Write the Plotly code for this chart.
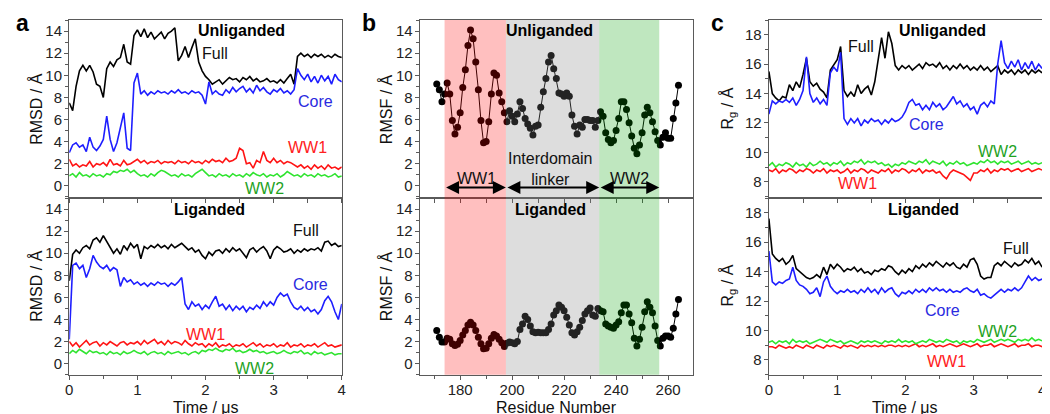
import plotly.graph_objects as go

# ---------------- data ----------------
TIME_US = [i / 20 for i in range(81)]          # 0 .. 4 us, 0.05 us sampling
RESIDUES = list(range(171, 265))

# Panel a: RMSD (Angstrom), unliganded
RMSD_UNL_FULL = [7.5, 6.8, 9.0, 10.4, 10.9, 10.4, 10.9, 10.3, 9.2, 9.0,
                 8.0, 10.6, 11.2, 10.8, 11.4, 11.6, 12.8, 11.2, 11.0, 13.6,
                 14.1, 13.5, 14.2, 13.4, 13.9, 13.3, 13.6, 13.9, 13.3, 13.8,
                 14.0, 14.3, 11.3, 11.8, 12.6, 11.6, 12.5, 13.3, 11.2, 10.4,
                 9.9, 9.6, 9.2, 9.4, 9.6, 9.2, 9.5, 9.8, 9.6, 9.7,
                 9.4, 9.8, 9.6, 9.9, 9.5, 9.7, 9.4, 9.5, 9.7, 9.4,
                 9.5, 9.3, 9.6, 9.3, 9.7, 10.1, 9.2, 11.7, 12.0, 11.7,
                 11.9, 11.6, 11.9, 11.7, 11.9, 11.6, 11.8, 11.6, 11.9, 11.7,
                 11.6]
RMSD_UNL_CORE = [3.0, 3.7, 3.9, 3.5, 3.7, 3.1, 4.4, 3.5, 3.2, 3.6,
                 4.2, 6.3, 4.2, 3.1, 3.9, 5.2, 6.6, 3.4, 3.2, 9.3,
                 10.2, 8.3, 8.6, 8.2, 8.5, 8.3, 8.6, 8.4, 8.5, 8.3,
                 8.6, 8.4, 8.7, 8.4, 8.5, 8.3, 8.6, 8.4, 8.5, 8.2,
                 7.4, 9.4, 8.3, 8.6, 8.3, 8.2, 8.7, 8.4, 8.9, 8.5,
                 8.8, 9.0, 8.5, 8.8, 8.4, 9.1, 8.6, 8.9, 8.5, 8.3,
                 8.7, 8.5, 8.8, 8.4, 8.6, 8.3, 8.7, 10.6, 10.0, 9.6,
                 10.1, 9.4, 9.9, 9.3, 10.0, 9.5, 9.9, 9.2, 10.1, 9.6,
                 9.4]
RMSD_UNL_WW1 = [2.4, 1.8, 2.0, 1.7, 1.9, 1.8, 2.2, 1.7, 2.0, 1.9,
                2.1, 1.8, 2.4, 1.9, 2.0, 1.8, 2.3, 1.9, 2.0, 2.2,
                2.4, 2.1, 2.3, 2.0, 2.2, 2.1, 2.3, 2.0, 2.2, 2.1,
                2.2, 2.0, 2.3, 2.1, 2.2, 2.0, 2.3, 2.1, 2.2, 2.0,
                2.3, 2.1, 2.4, 2.2, 2.3, 2.1, 2.5, 2.2, 2.3, 2.5,
                3.4, 3.2, 2.0, 2.1, 1.6, 2.3, 2.1, 3.1, 2.3, 2.1,
                2.5, 2.1, 2.3, 2.0, 2.2, 2.1, 1.9, 1.7, 1.9, 1.6,
                1.8, 1.5, 1.9, 1.6, 1.8, 1.5, 1.9, 1.6, 1.7, 1.5,
                1.7]
RMSD_UNL_WW2 = [0.9, 1.1, 0.8, 1.2, 0.9, 1.0, 0.8, 1.1, 0.9, 1.0,
                0.8, 1.1, 1.0, 1.3, 1.2, 1.4, 1.3, 1.5, 1.2, 1.4,
                1.1, 0.9, 1.0, 0.8, 1.1, 0.9, 1.2, 1.4, 1.3, 1.1,
                0.9, 1.0, 0.8, 1.1, 0.9, 1.0, 0.8, 1.1, 1.3, 1.5,
                1.2, 0.9, 1.0, 0.8, 1.1, 0.9, 1.0, 0.8, 1.1, 0.9,
                1.0, 0.8, 1.1, 0.9, 1.2, 1.0, 0.9, 1.1, 0.8, 1.0,
                0.9, 1.1, 0.8, 1.0, 1.3, 1.1, 0.9, 1.0, 0.8, 1.1,
                0.9, 1.0, 0.8, 1.1, 0.9, 1.0, 0.8, 0.9, 1.1, 0.8,
                0.9]

# Panel a: RMSD (Angstrom), liganded
RMSD_LIG_FULL = [7.5, 9.9, 10.3, 10.0, 10.5, 10.7, 10.4, 11.2, 11.4, 11.0,
                 11.6, 11.1, 10.5, 10.0, 10.4, 9.9, 10.7, 10.3, 10.9, 10.5,
                 10.8, 9.5, 10.6, 10.4, 10.7, 10.5, 10.8, 10.5, 10.7, 10.4,
                 10.8, 10.5, 10.7, 10.9, 10.6, 10.3, 10.5, 10.1, 10.3, 9.8,
                 9.5, 10.1, 9.8, 10.2, 10.3, 10.0, 10.4, 10.1, 10.5, 10.2,
                 10.4, 10.0, 9.6, 10.3, 10.5, 10.1, 10.4, 10.6, 10.2, 9.5,
                 10.3, 10.6, 10.4, 10.1, 10.2, 10.4, 10.0, 10.3, 10.1, 10.4,
                 10.2, 10.4, 10.3, 10.5, 10.2, 11.0, 11.1, 10.7, 10.9, 10.6,
                 10.7]
RMSD_LIG_CORE = [2.2, 8.9, 9.1, 8.6, 8.9, 7.8, 8.6, 9.8, 9.2, 8.8,
                 8.6, 8.9, 8.4, 8.7, 8.5, 7.0, 7.8, 7.4, 7.6, 7.2,
                 7.4, 7.1, 7.3, 7.0, 7.3, 7.1, 7.4, 7.2, 7.3, 7.0,
                 7.3, 7.1, 7.4, 7.8, 5.4, 4.9, 5.6, 5.2, 5.4, 4.9,
                 5.3, 5.0, 5.6, 6.1, 5.2, 5.4, 4.9, 5.3, 4.8, 5.2,
                 4.9, 5.2, 4.7, 5.1, 4.9, 5.3, 5.0, 5.6, 5.2, 5.6,
                 5.3, 6.0, 6.4, 6.1, 6.3, 5.6, 5.1, 4.9, 5.2, 4.8,
                 5.1, 4.7, 4.9, 4.5, 4.9, 5.7, 6.1, 5.6, 4.7, 4.0,
                 5.4]
RMSD_LIG_WW1 = [2.0, 1.6, 1.9, 1.5, 1.8, 2.1, 1.7, 1.9, 2.0, 1.6,
                1.9, 1.7, 2.0, 1.8, 1.6, 1.9, 2.0, 1.7, 1.9, 1.8,
                2.0, 1.7, 2.1, 1.8, 2.0, 2.2, 1.8, 2.0, 1.7, 2.1,
                1.8, 2.0, 1.9, 1.7, 2.1, 1.8, 1.6, 1.9, 1.7, 1.8,
                1.5, 1.8, 1.6, 1.9, 1.5, 1.7, 1.6, 1.8, 1.5, 1.7,
                1.6, 1.8, 1.5, 1.7, 1.9, 1.6, 1.8, 1.5, 1.7, 1.6,
                1.8, 1.5, 1.7, 1.6, 1.9, 1.5, 1.7, 1.6, 1.8, 1.5,
                1.7, 1.6, 1.8, 1.5, 1.7, 1.9, 1.6, 1.7, 1.5, 1.6,
                1.7]
RMSD_LIG_WW2 = [0.9, 1.2, 1.0, 1.3, 1.1, 0.9, 1.2, 1.0, 1.1, 0.9,
                1.0, 0.8, 1.1, 0.9, 1.0, 0.8, 1.1, 0.9, 1.0, 1.2,
                1.0, 0.9, 1.1, 0.8, 1.0, 1.1, 0.9, 1.0, 0.8, 1.1,
                0.9, 1.0, 1.1, 0.9, 1.0, 0.8, 1.0, 1.1, 0.9, 1.2,
                1.1, 1.3, 1.2, 1.4, 1.2, 1.1, 1.3, 1.2, 1.4, 1.1,
                1.2, 1.0, 1.1, 1.3, 1.1, 1.2, 1.0, 1.1, 0.9, 1.0,
                1.1, 0.9, 1.0, 1.2, 1.0, 0.9, 1.1, 1.0, 1.2, 0.9,
                1.0, 0.8, 1.1, 0.9, 1.0, 0.8, 0.9, 1.0, 0.8, 0.9,
                0.9]

# Panel b: RMSF (Angstrom) per residue 171..264
RMSF_UNL = [9.2, 8.7, 7.6, 8.3, 9.3, 8.3, 5.9, 4.7, 5.3, 6.6,
            8.9, 10.5, 12.7, 14.1, 13.3, 11.2, 8.7, 5.9, 3.9, 4.0,
            5.8, 8.3, 10.2, 10.0, 8.4, 7.6, 6.6, 5.8, 6.8, 6.3,
            5.8, 6.5, 7.6, 7.0, 6.1, 5.6, 5.2, 4.6, 5.4, 5.5,
            7.1, 8.5, 9.7, 11.2, 11.8, 10.6, 9.7, 8.4, 8.3, 8.1,
            8.4, 8.1, 6.4, 5.4, 4.7, 5.5, 5.3, 6.0, 6.0, 5.9,
            5.9, 5.3, 5.9, 6.7, 6.3, 4.8, 4.2, 3.9, 4.1, 5.0,
            6.1, 7.6, 7.6, 6.9, 5.7, 4.5, 3.4, 2.9, 3.7, 4.8,
            6.4, 7.1, 6.6, 5.8, 4.9, 4.1, 3.7, 4.4, 4.8, 4.3,
            4.3, 6.1, 7.5, 9.1]
RMSF_LIG = [3.0, 2.4, 1.95, 1.95, 2.3, 2.2, 1.8, 1.65, 1.75, 2.1,
            2.6, 3.0, 3.5, 3.75, 3.5, 3.0, 2.4, 1.8, 1.35, 1.4,
            1.8, 2.3, 2.65, 2.5, 2.2, 1.9, 1.55, 1.85, 1.95, 1.9,
            1.8, 2.0, 3.1, 3.6, 4.3, 4.0, 3.4, 2.9, 2.8, 2.85,
            2.8, 2.8, 2.8, 3.1, 3.6, 4.4, 4.8, 5.3, 5.1, 4.8,
            4.2, 3.5, 2.8, 2.6, 2.9, 3.3, 3.9, 4.5, 4.8, 5.05,
            4.4, 4.3, 5.0, 4.8, 4.7, 3.6, 3.4, 3.3, 3.2, 3.5,
            3.8, 4.6, 5.3, 5.3, 4.5, 3.7, 2.3, 1.6, 2.2, 3.3,
            4.7, 5.6, 5.1, 4.6, 3.4, 2.1, 1.6, 2.3, 2.5, 2.5,
            2.4, 3.2, 4.5, 5.8]

# Panel c: radius of gyration (Angstrom), unliganded
RG_UNL_FULL = [15.5, 14.0, 13.7, 13.5, 13.8, 13.7, 14.6, 14.2, 14.8, 14.4,
               15.3, 16.4, 14.8, 14.5, 14.7, 14.3, 14.1, 13.7, 15.6, 16.0,
               16.3, 17.2, 14.2, 13.8, 14.1, 13.8, 14.6, 14.0, 14.3, 14.5,
               13.9, 14.8, 16.2, 17.8, 16.4, 18.2, 17.4, 15.9, 15.6, 15.9,
               15.7, 15.9, 15.6, 15.8, 16.0, 15.7, 16.1, 15.9, 16.0, 15.8,
               16.1, 15.7, 15.9, 15.6, 15.9, 15.7, 16.0, 15.7, 15.9, 15.6,
               15.8, 15.6, 15.9, 15.6, 15.8, 15.5, 15.7, 15.9, 15.3, 15.6,
               15.4, 15.6, 15.3, 15.6, 15.4, 15.6, 15.3, 15.6, 15.4, 15.6,
               15.4]
RG_UNL_CORE = [12.6, 13.5, 13.3, 13.5, 13.4, 13.6, 13.4, 13.7, 13.2, 13.6,
               14.2, 16.5, 14.0, 13.4, 13.7, 13.3, 13.6, 13.2, 15.4, 15.8,
               15.5, 16.8, 12.3, 11.9, 12.3, 12.0, 12.3, 11.8, 12.2, 12.0,
               12.3, 12.1, 12.2, 11.9, 12.2, 12.0, 12.3, 12.1, 12.2, 12.4,
               12.8, 13.4, 13.6, 13.2, 13.3, 12.9, 13.2, 12.9, 13.4, 13.1,
               13.3, 12.9, 13.1, 13.5, 13.8, 13.3, 13.5, 13.1, 13.3, 12.9,
               13.1, 12.6, 13.2, 13.4, 13.1, 13.5, 13.3, 16.0, 17.6, 16.1,
               15.7, 16.2, 15.8, 16.3, 15.6, 16.1, 15.7, 16.2, 15.6, 16.0,
               15.7]
RG_UNL_WW1 = [8.8, 8.7, 8.9, 8.6, 8.8, 8.7, 8.9, 8.8, 8.6, 8.8,
              8.7, 8.9, 8.8, 8.6, 8.8, 8.7, 8.9, 8.6, 8.8, 8.7,
              8.8, 8.6, 8.7, 8.9, 8.6, 8.8, 8.7, 8.9, 8.8, 8.6,
              8.8, 8.7, 8.6, 8.8, 8.7, 8.9, 8.6, 8.8, 8.7, 8.9,
              8.8, 8.6, 8.8, 8.7, 8.9, 8.6, 8.8, 8.7, 8.8, 8.6,
              8.7, 8.4, 8.2, 8.6, 8.8, 8.7, 8.6, 8.5, 8.3, 8.1,
              8.6, 8.6, 8.8, 8.7, 8.9, 8.6, 8.8, 8.7, 8.9, 8.8,
              8.9, 8.7, 8.8, 8.9, 8.7, 8.8, 8.9, 8.7, 8.8, 8.9,
              8.8]
RG_UNL_WW2 = [9.1, 9.3, 9.0, 9.2, 9.1, 9.3, 9.2, 9.0, 9.3, 9.1,
              9.2, 9.0, 9.3, 9.1, 9.2, 9.4, 9.2, 9.3, 9.1, 9.3,
              9.2, 9.4, 9.1, 9.3, 9.2, 9.4, 9.3, 9.5, 9.2, 9.4,
              9.3, 9.4, 9.2, 9.3, 9.1, 9.2, 9.0, 9.2, 9.1, 9.3,
              9.2, 9.4, 9.3, 9.2, 9.4, 9.3, 9.5, 9.2, 9.4, 9.3,
              9.2, 9.4, 9.1, 9.3, 9.2, 9.4, 9.2, 9.3, 9.1, 9.2,
              9.3, 9.2, 9.4, 9.3, 9.5, 9.3, 9.4, 9.2, 9.4, 9.3,
              9.4, 9.2, 9.3, 9.4, 9.2, 9.3, 9.4, 9.2, 9.3, 9.2,
              9.3]

# Panel c: radius of gyration (Angstrom), liganded
RG_LIG_FULL = [17.6, 15.2, 14.9, 14.7, 14.9, 14.5, 14.7, 15.1, 14.2, 14.0,
               13.8, 13.6, 13.5, 13.6, 13.8, 13.6, 14.3, 13.8, 14.5, 14.2,
               14.5, 14.3, 14.0, 14.2, 14.1, 14.3, 14.0, 14.2, 13.9, 14.0,
               13.8, 14.1, 14.0, 14.2, 14.1, 14.4, 14.3, 14.0, 13.8, 14.1,
               13.9, 14.2, 14.0, 14.4, 14.2, 14.5, 14.3, 14.6, 14.4, 14.7,
               14.5, 14.3, 14.6, 14.4, 14.6, 14.3, 14.2, 14.5, 14.3, 14.8,
               14.9, 14.5, 13.7, 13.5, 13.6, 13.6, 14.4, 14.6, 14.4, 14.7,
               14.5, 14.3, 14.6, 14.4, 14.5, 14.8, 14.6, 14.9, 14.5, 14.7,
               14.3]
RG_LIG_CORE = [15.4, 13.3, 13.1, 13.3, 13.2, 13.4, 13.5, 14.3, 13.4, 13.1,
               13.0, 12.8, 12.5, 12.6, 12.9, 12.3, 13.3, 13.7, 13.0, 12.7,
               12.5, 12.7, 12.6, 12.8, 12.6, 12.7, 12.5, 12.8, 12.6, 12.9,
               12.6, 12.8, 12.5, 12.9, 12.6, 12.8, 12.9, 12.5, 12.3, 12.6,
               12.5, 12.7, 12.5, 12.8, 12.6, 12.8, 12.6, 12.9, 12.7, 12.9,
               12.7, 12.8, 12.6, 12.8, 12.6, 12.7, 12.6, 12.8, 12.9, 12.7,
               12.6, 12.8, 12.4, 12.5, 12.3, 12.2, 12.4, 12.6, 12.8, 12.6,
               12.8, 12.7, 12.9, 12.7, 12.9, 13.3, 13.7, 13.4, 13.6, 13.4,
               13.5]
RG_LIG_WW1 = [8.9, 8.9, 8.8, 9.0, 8.9, 8.8, 8.9, 8.8, 9.0, 8.9,
              8.8, 9.0, 8.9, 8.8, 9.0, 8.9, 8.8, 9.0, 8.9, 9.0,
              8.9, 8.8, 9.0, 8.9, 9.0, 8.9, 8.8, 9.0, 8.9, 9.0,
              8.9, 9.0, 8.9, 9.0, 8.9, 9.0, 9.0, 8.9, 9.0, 8.9,
              9.0, 8.9, 9.0, 9.1, 8.9, 9.0, 8.9, 9.0, 9.1, 8.9,
              9.0, 8.9, 9.0, 9.1, 9.0, 8.9, 9.0, 9.1, 9.0, 8.9,
              9.0, 9.1, 8.9, 9.0, 9.0, 9.1, 8.9, 9.0, 9.1, 9.0,
              8.9, 9.0, 9.1, 8.9, 9.0, 9.0, 9.1, 8.9, 9.0, 9.0,
              8.9]
RG_LIG_WW2 = [9.2, 9.3, 9.1, 9.3, 9.2, 9.3, 9.1, 9.4, 9.2, 9.3,
              9.2, 9.3, 9.1, 9.2, 9.3, 9.4, 9.3, 9.2, 9.4, 9.3,
              9.2, 9.3, 9.1, 9.2, 9.3, 9.2, 9.1, 9.3, 9.2, 9.3,
              9.2, 9.3, 9.2, 9.1, 9.3, 9.2, 9.3, 9.2, 9.4, 9.2,
              9.3, 9.2, 9.3, 9.1, 9.2, 9.3, 9.2, 9.4, 9.3, 9.2,
              9.3, 9.2, 9.4, 9.3, 9.2, 9.3, 9.1, 9.3, 9.2, 9.3,
              9.2, 9.4, 9.3, 9.2, 9.3, 9.4, 9.2, 9.3, 9.4, 9.3,
              9.4, 9.3, 9.2, 9.4, 9.3, 9.4, 9.3, 9.5, 9.3, 9.4,
              9.3]

DOMAINS = ["WW1", "Interdomain<br>linker", "WW2"]
DOMAIN_BOUNDS = [(174.0, 197.6), (197.6, 233.5), (233.5, 256.6)]
ARROW_LEVEL = -0.15

# ---------------- styling ----------------
W, H = 1050, 414
FONT = "Arial, 'Liberation Sans', sans-serif"
AXC = "#5a5a5a"
LINE_COL = {"Full": "#000000", "Core": "#1e1eff", "WW1": "#ff1414", "WW2": "#2fe42f"}
TXT_COL = {"Full": "#111111", "Core": "#2a2ae0", "WW1": "#ff2020", "WW2": "#1fa21f"}
SHADE = ["rgba(255,0,0,0.25)", "rgba(128,128,128,0.27)", "rgba(0,160,0,0.25)"]


def pxx(x):
    return x / W


def pyy(y):
    return 1 - y / H


XA = [57.7 / W, 332.3 / W]
XB = [411 / W, 686 / W]
XC = [762.7 / W, 1038 / W]
YT = [pyy(190), pyy(12)]
YB = [pyy(366.7), pyy(190)]

fig = go.Figure()

series_a = [
    (1, [("Full", RMSD_UNL_FULL), ("Core", RMSD_UNL_CORE), ("WW1", RMSD_UNL_WW1), ("WW2", RMSD_UNL_WW2)]),
    (2, [("Full", RMSD_LIG_FULL), ("Core", RMSD_LIG_CORE), ("WW1", RMSD_LIG_WW1), ("WW2", RMSD_LIG_WW2)]),
    (5, [("Full", RG_UNL_FULL), ("Core", RG_UNL_CORE), ("WW1", RG_UNL_WW1), ("WW2", RG_UNL_WW2)]),
    (6, [("Full", RG_LIG_FULL), ("Core", RG_LIG_CORE), ("WW1", RG_LIG_WW1), ("WW2", RG_LIG_WW2)]),
]
for k, lst in series_a:
    xs = "x" if k == 1 else f"x{k}"
    ys = "y" if k == 1 else f"y{k}"
    for name, vals in lst:
        fig.add_trace(go.Scatter(x=TIME_US, y=vals, mode="lines", xaxis=xs, yaxis=ys,
                                 line=dict(color=LINE_COL[name], width=1.6),
                                 showlegend=False, hoverinfo="skip"))

for k, vals in [(3, RMSF_UNL), (4, RMSF_LIG)]:
    fig.add_trace(go.Scatter(x=RESIDUES, y=vals, mode="lines+markers",
                             xaxis=f"x{k}", yaxis=f"y{k}",
                             line=dict(color="#000000", width=1),
                             marker=dict(color="#000000", size=7),
                             showlegend=False, hoverinfo="skip"))


def xax(domain, anchor, rng, dtick, tick0, labels, minor=None):
    d = dict(domain=domain, anchor=anchor, range=rng, dtick=dtick, tick0=tick0,
             showticklabels=labels, ticks="outside", ticklen=4, tickwidth=1.2,
             tickcolor=AXC, showline=True, linecolor=AXC, linewidth=1.4,
             mirror=True, showgrid=False, zeroline=False,
             ticklabelstandoff=-3,
             tickfont=dict(family=FONT, size=15, color="#222"))
    if minor:
        d["minor"] = dict(dtick=minor, ticks="outside", ticklen=3, tickcolor=AXC)
    return d


def yax(domain, anchor, rng):
    return dict(domain=domain, anchor=anchor, range=rng, dtick=2, tick0=0,
                ticks="outside", ticklen=4, tickwidth=1.2, tickcolor=AXC,
                minor=dict(dtick=1, ticks="outside", ticklen=3, tickcolor=AXC),
                showline=True, linecolor=AXC, linewidth=1.4, mirror=True,
                showgrid=False, zeroline=False, ticklabelstandoff=-1,
                tickfont=dict(family=FONT, size=15, color="#222"))


layout = dict(
    width=W, height=H, margin=dict(l=0, r=0, t=0, b=0),
    paper_bgcolor="white", plot_bgcolor="white", showlegend=False,
    xaxis=xax(XA, "y", [0, 4], 0.5, 0, False),
    yaxis=yax(YT, "x", [-1.1, 15]),
    xaxis2=xax(XA, "y2", [0, 4], 1, 0, True, 0.5),
    yaxis2=yax(YB, "x2", [-1.0, 15]),
    xaxis3=xax(XB, "y3", [164.5, 269.5], 10, 170, False),
    yaxis3=yax(YT, "x3", [-1.1, 15]),
    xaxis4=xax(XB, "y4", [164.5, 269.5], 20, 180, True, 10),
    yaxis4=yax(YB, "x4", [-1.0, 15]),
    xaxis5=xax(XC, "y5", [0, 4], 0.5, 0, False),
    yaxis5=yax(YT, "x5", [6.9, 19]),
    xaxis6=xax(XC, "y6", [0, 4], 1, 0, True, 0.5),
    yaxis6=yax(YB, "x6", [7.0, 19]),
)
fig.update_layout(**layout)

# domain shading in panel b (drawn translucent over the markers)
shapes = []
for (x0, x1), col in zip(DOMAIN_BOUNDS, SHADE):
    shapes.append(dict(type="rect", xref="x3", yref="paper", x0=x0, x1=x1,
                       y0=YB[0], y1=YT[1], fillcolor=col, line=dict(width=0),
                       layer="above"))
fig.update_layout(shapes=shapes)

ann = []


def txt(text, x, y, size=16, color="#111", bold=False, angle=0, xanchor="center"):
    t = f"<b>{text}</b>" if bold else text
    ann.append(dict(text=t, x=pxx(x), y=pyy(y), xref="paper", yref="paper",
                    showarrow=False, xanchor=xanchor, yanchor="middle",
                    textangle=angle, font=dict(family=FONT, size=size, color=color)))


# panel letters
txt("a", 2, 15, size=23, bold=True, color="#000", xanchor="left")
txt("b", 351, 15, size=23, bold=True, color="#000", xanchor="left")
txt("c", 702, 15, size=23, bold=True, color="#000", xanchor="left")

# panel a
txt("Unliganded", 231, 22, bold=True, color="#000")
txt("Full", 205, 45, color=TXT_COL["Full"])
txt("Core", 306, 93, color=TXT_COL["Core"])
txt("WW1", 298, 140, color=TXT_COL["WW1"])
txt("WW2", 254, 181, color=TXT_COL["WW2"])
txt("Liganded", 199, 202, bold=True, color="#000")
txt("Full", 296, 223, color=TXT_COL["Full"])
txt("Core", 301, 276, color=TXT_COL["Core"])
txt("WW1", 195, 326, color=TXT_COL["WW1"])
txt("WW2", 244, 360, color=TXT_COL["WW2"])
txt("RMSD / Å", 24, 101, angle=-90)
txt("RMSD / Å", 24, 278, angle=-90)
txt("Time / μs", 195, 399)

# panel b
txt("Unliganded", 542, 22, bold=True, color="#000")
txt("Liganded", 543, 202, bold=True, color="#000")
txt(DOMAINS[0], 468, 170, color="#111")
txt(DOMAINS[1], 543, 161, color="#111")
txt(DOMAINS[2], 622, 170, color="#111")
txt("RMSF / Å", 377, 101, angle=-90)
txt("RMSF / Å", 377, 278, angle=-90)
txt("Residue Number", 549, 399)

# panel c
txt("Unliganded", 938, 22, bold=True, color="#000")
txt("Full", 856, 39, color=TXT_COL["Full"])
txt("Core", 922, 116, color=TXT_COL["Core"])
txt("WW2", 993, 143, color=TXT_COL["WW2"])
txt("WW1", 852, 175, color=TXT_COL["WW1"])
txt("Liganded", 918, 202, bold=True, color="#000")
txt("Full", 1012, 240, color=TXT_COL["Full"])
txt("Core", 938, 302, color=TXT_COL["Core"])
txt("WW2", 993, 323, color=TXT_COL["WW2"])
txt("WW1", 942, 353, color=TXT_COL["WW1"])
txt("R<sub>g</sub> / Å", 721, 101, angle=-90)
txt("R<sub>g</sub> / Å", 721, 278, angle=-90)
txt("Time / μs", 900, 399)

# double-headed domain arrows, drawn above the shading
for x0, x1 in DOMAIN_BOUNDS:
    ann.append(dict(x=x1, y=ARROW_LEVEL, ax=x0, ay=ARROW_LEVEL, xref="x3", yref="y3",
                    axref="x3", ayref="y3", text="", showarrow=True,
                    arrowhead=2, arrowside="end+start", arrowsize=1.3,
                    arrowwidth=2, arrowcolor="#000", standoff=0, startstandoff=0))

fig.update_layout(annotations=ann)
fig.write_html("out.html")
